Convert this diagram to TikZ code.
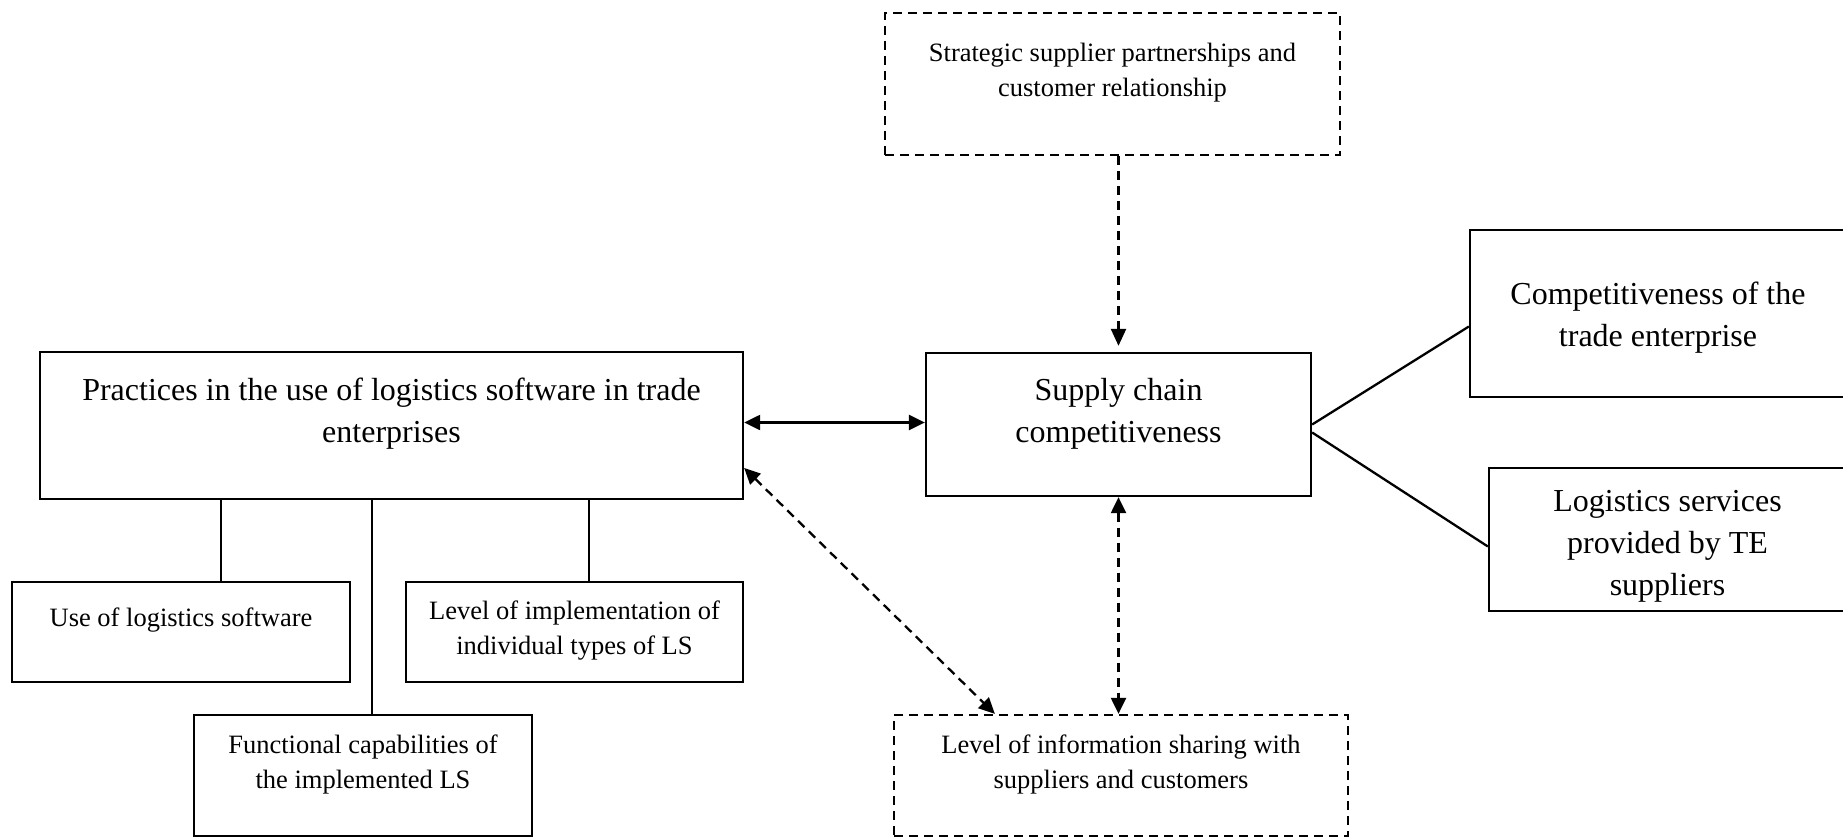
\documentclass[tikz,border=0pt]{standalone}
\usepackage{fontspec}
\setmainfont{Liberation Serif}
\usetikzlibrary{arrows.meta}

\begin{document}
\begin{tikzpicture}[x=1pt, y=-1pt,
        box/.style={draw, line width=2.3pt, inner sep=0pt, align=center},
        dashbox/.style={box, dash pattern=on 9pt off 6pt},
        bigtext/.style={font=\fontsize{32}{42}\selectfont},
        smalltext/.style={font=\fontsize{26.5}{35}\selectfont},
        link/.style={line width=2.3pt},
        dashlink/.style={line width=2.3pt, dash pattern=on 9pt off 6pt},
        oneway/.style={-{Triangle[length=17pt, width=15pt]}},
        twoway/.style={{Triangle[length=16pt, width=15pt]}-{Triangle[length=16pt, width=15pt]}}]
        \useasboundingbox (0, 0) rectangle (1843, 837);

        % Boxes:
        \node[dashbox, smalltext, minimum width=455pt, minimum height=142pt, text depth=27.5pt] (strategic) at (1112.5, 84) {Strategic supplier partnerships and\\ customer relationship};
        \node[box, bigtext, minimum width=703pt, minimum height=147pt, text depth=30pt] (practices) at (391.5, 425.5) {Practices in the use of logistics software in trade\\ enterprises};
        \node[box, bigtext, minimum width=385pt, minimum height=143pt, text depth=28pt] (supply) at (1118.5, 424.5) {Supply chain\\ competitiveness};
        \node[box, bigtext, minimum width=376pt, minimum height=167pt, text height=72pt] (compet) at (1658, 313.5) {Competitiveness of the\\ trade enterprise};
        \node[box, bigtext, minimum width=357pt, minimum height=143pt, text height=118pt] (services) at (1667.5, 539.5) {Logistics services\\ provided by TE\\ suppliers};
        \node[box, smalltext, minimum width=338pt, minimum height=100pt, text depth=29pt] (uselog) at (181, 632) {Use of logistics software};
        \node[box, smalltext, minimum width=337pt, minimum height=100pt, text depth=8pt] (level) at (574.5, 632) {Level of implementation of\\ individual types of LS};
        \node[box, smalltext, minimum width=338pt, minimum height=121pt, text depth=27pt] (functions) at (363, 775.5) {Functional capabilities of\\ the implemented LS};
        \node[dashbox, smalltext, minimum width=454pt, minimum height=121pt, text depth=27pt] (sharing) at (1121, 775.5) {Level of information sharing with\\ suppliers and customers};

        % Practices to its parts:
        \draw[link] ([xshift=40pt]uselog.north) -- ([xshift=40pt]uselog.north |- practices.south);
        \draw[link] ([xshift=9pt]functions.north) -- ([xshift=9pt]functions.north |- practices.south);
        \draw[link] ([xshift=14.5pt]level.north) -- ([xshift=14.5pt]level.north |- practices.south);

        % Links between the main boxes:
        \draw[link, twoway] ([yshift=3pt]practices.east) -- ([yshift=3pt]practices.east -| supply.west);
        \draw[dashlink, twoway] ([yshift=-42.5pt]practices.east) -- ([xshift=102pt]sharing.north west);
        \draw[dashlink, oneway] (strategic.south -| supply.north) -- ([yshift=6pt]supply.north);
        \draw[dashlink, twoway] (supply.south) -- (supply.south |- sharing.north);

        % Supply chain to the trade enterprise:
        \draw[link] (supply.east) -- ([yshift=-13pt]compet.west);
        \draw[link] ([yshift=-8pt]supply.east) -- ([yshift=-7pt]services.west);
\end{tikzpicture}
\end{document}
